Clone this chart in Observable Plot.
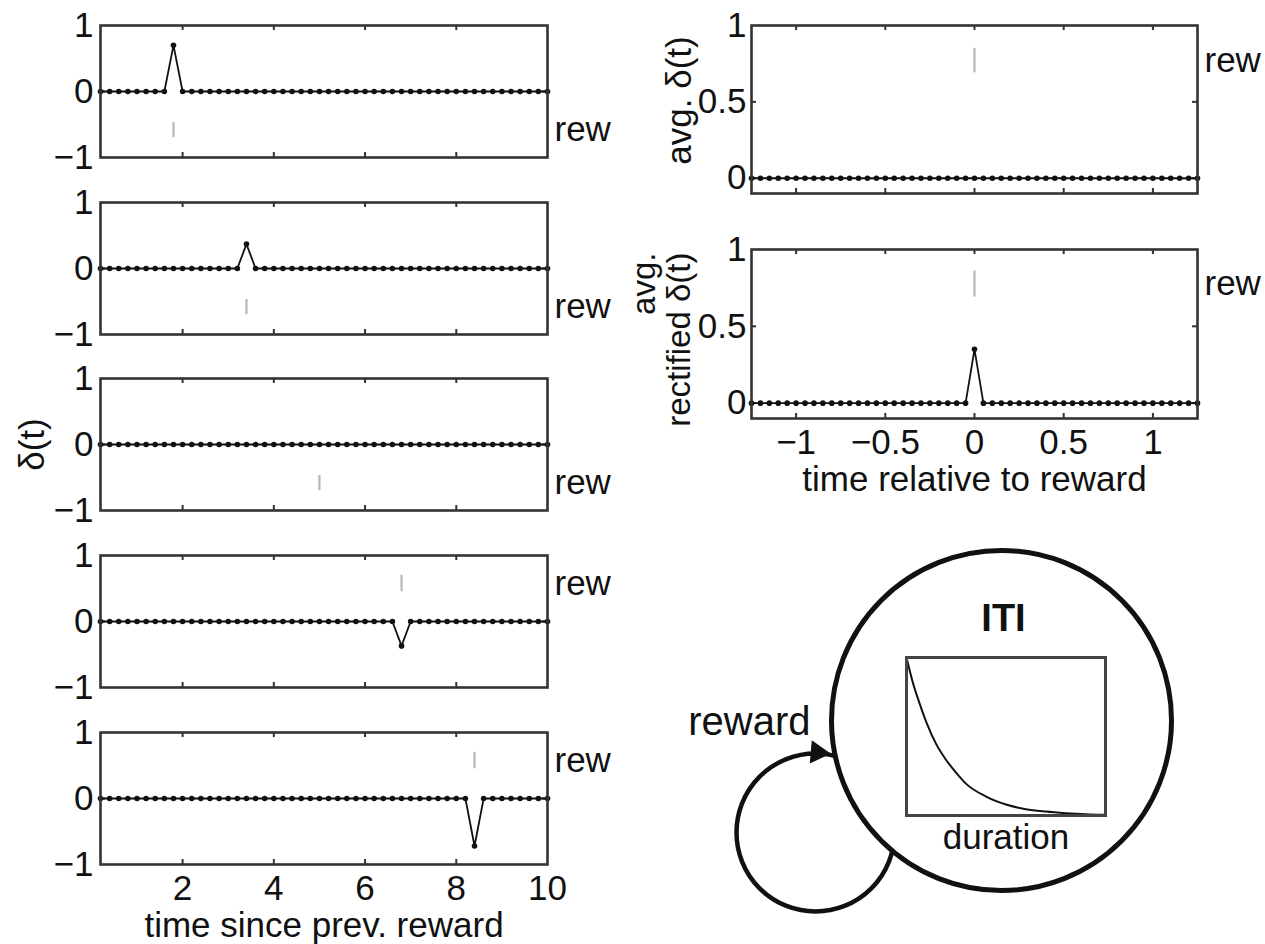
<!DOCTYPE html>
<html><head><meta charset="utf-8">
<script src="https://cdn.jsdelivr.net/npm/d3@7"></script>
<script src="https://cdn.jsdelivr.net/npm/@observablehq/plot@0.6"></script>
<style>
body{margin:0;background:#fff;}
#fig{position:relative;width:1265px;height:944px;overflow:hidden;background:#fff;}
#fig svg{position:absolute;overflow:visible;}
</style></head><body><div id="fig"></div>
<script>
// ---------- data ----------
const tLeft = [0.2,0.4,0.6,0.8,1,1.2,1.4,1.6,1.8,2,2.2,2.4,2.6,2.8,3,3.2,3.4,3.6,3.8,4,4.2,4.4,4.6,4.8,5,5.2,5.4,5.6,5.8,6,6.2,6.4,6.6,6.8,7,7.2,7.4,7.6,7.8,8,8.2,8.4,8.6,8.8,9,9.2,9.4,9.6,9.8,10];
const deltaP1 = [0,0,0,0,0,0,0,0,0.7,0, 0,0,0,0,0,0,0,0,0,0, 0,0,0,0,0,0,0,0,0,0, 0,0,0,0,0,0,0,0,0,0, 0,0,0,0,0,0,0,0,0,0];
const deltaP2 = [0,0,0,0,0,0,0,0,0,0, 0,0,0,0,0,0,0.37,0,0,0, 0,0,0,0,0,0,0,0,0,0, 0,0,0,0,0,0,0,0,0,0, 0,0,0,0,0,0,0,0,0,0];
const deltaP3 = [0,0,0,0,0,0,0,0,0,0, 0,0,0,0,0,0,0,0,0,0, 0,0,0,0,0,0,0,0,0,0, 0,0,0,0,0,0,0,0,0,0, 0,0,0,0,0,0,0,0,0,0];
const deltaP4 = [0,0,0,0,0,0,0,0,0,0, 0,0,0,0,0,0,0,0,0,0, 0,0,0,0,0,0,0,0,0,0, 0,0,0,-0.37,0,0,0,0,0,0, 0,0,0,0,0,0,0,0,0,0];
const deltaP5 = [0,0,0,0,0,0,0,0,0,0, 0,0,0,0,0,0,0,0,0,0, 0,0,0,0,0,0,0,0,0,0, 0,0,0,0,0,0,0,0,0,0, 0,-0.72,0,0,0,0,0,0,0,0];
const leftSeries = [deltaP1, deltaP2, deltaP3, deltaP4, deltaP5];
const rewTimeLeft = [1.8, 3.4, 5.0, 6.8, 8.4];
const rewLowLeft  = [-0.70, -0.70, -0.70, 0.45, 0.45];
const rewHighLeft = [-0.47, -0.47, -0.47, 0.70, 0.70];

const tRight = [-1.25,-1.2,-1.15,-1.1,-1.05,-1,-0.95,-0.9,-0.85,-0.8,-0.75,-0.7,-0.65,-0.6,-0.55,-0.5,-0.45,-0.4,-0.35,-0.3,-0.25,-0.2,-0.15,-0.1,-0.05,0,0.05,0.1,0.15,0.2,0.25,0.3,0.35,0.4,0.45,0.5,0.55,0.6,0.65,0.7,0.75,0.8,0.85,0.9,0.95,1,1.05,1.1,1.15,1.2,1.25];
const avgDelta  = [0,0,0,0,0,0,0,0,0,0, 0,0,0,0,0,0,0,0,0,0, 0,0,0,0,0,0,0,0,0,0, 0,0,0,0,0,0,0,0,0,0, 0,0,0,0,0,0,0,0,0,0, 0];
const rectDelta = [0,0,0,0,0,0,0,0,0,0, 0,0,0,0,0,0,0,0,0,0, 0,0,0,0,0,0.35,0,0,0,0, 0,0,0,0,0,0,0,0,0,0, 0,0,0,0,0,0,0,0,0,0, 0];
const rightSeries = [avgDelta, rectDelta];
const rewTimeRight = [0, 0];
const rewLowRight  = [0.69, 0.69];
const rewHighRight = [0.85, 0.86];

const leftXTicks = [2, 4, 6, 8, 10];
const leftYTicks = [-1, 0, 1];
const rightXTicks = [-1, -0.5, 0, 0.5, 1];
const rightYTicks = [0, 0.5, 1];
const rightYLabels = ["avg. δ(t)", "avg.\nrectified δ(t)"];

// schematic: exponential ITI-duration density
const durX = [0, 0.03, 0.06, 0.1, 0.15, 0.2, 0.25, 0.3, 0.4, 0.5, 0.6, 0.7, 0.8, 0.9, 1];
const durY = [1, 0.85, 0.73, 0.59, 0.45, 0.35, 0.27, 0.2, 0.12, 0.07, 0.04, 0.025, 0.015, 0.008, 0.004];

// ---------- drawing ----------
const FONT = "'Liberation Sans', Arial, Helvetica, sans-serif";
const FS = 35;
const fmt = v => (v < 0 ? "\u2212" : "") + Math.abs(v);
const fig = document.getElementById("fig");
function place(svg, left, top) {
  svg.style.left = left + "px";
  svg.style.top = top + "px";
  fig.appendChild(svg);
}
const baseStyle = {background: "transparent", overflow: "visible", fontFamily: FONT, color: "#111"};

function panel(cfg) {
  const {t, d, xDomain, yDomain, xTicks, yTicks, box, rewT, rewLo, rewHi, showX, xLabel, xLabelDy, yLabel, yLabelOpts, yPad} = cfg;
  const [x0, y0, x1, y1] = box;
  const w = x1 - x0, h = y1 - y0;
  const ml = 140, mr = 90, mt = 20, mb = 90;
  const data = t.map((v, i) => ({t: v, d: d[i]}));
  const inner = xTicks.filter(v => v > xDomain[0] && v < xDomain[1]);
  const innerY = yTicks.filter(v => v > yDomain[0] && v < yDomain[1]);
  const marks = [
    Plot.ruleX(inner, {insetTop: h - 5, stroke: "#333", strokeWidth: 2}),
    Plot.ruleX(inner, {insetBottom: h - 5, stroke: "#333", strokeWidth: 2}),
    Plot.ruleY(innerY, {insetRight: w - 5, stroke: "#333", strokeWidth: 2}),
    Plot.ruleY(innerY, {insetLeft: w - 5, stroke: "#333", strokeWidth: 2}),
    Plot.ruleX([rewT], {y1: rewLo, y2: rewHi, stroke: "#b8b8b8", strokeWidth: 2.2}),
    Plot.line(data, {x: "t", y: "d", stroke: "#111", strokeWidth: 1.8}),
    Plot.dot(data, {x: "t", y: "d", r: 2.8, fill: "#111", stroke: "none"}),
    Plot.frame({stroke: "#333", strokeWidth: 2.6}),
    Plot.text([{x: xDomain[1], y: (rewLo + rewHi) / 2, s: "rew"}], {x: "x", y: "y", text: "s", textAnchor: "start", dx: 7, fontSize: FS, fill: "#111"}),
    Plot.axisY({ticks: yTicks, tickFormat: fmt, anchor: "left", tickSize: 0, tickPadding: yPad, fontSize: FS, label: null, fill: "#111"})
  ];
  if (showX) {
    marks.push(Plot.axisX({ticks: xTicks, tickFormat: fmt, anchor: "bottom", tickSize: 0, tickPadding: 11, fontSize: FS, label: null, fill: "#111"}));
    marks.push(Plot.text([xLabel], {frameAnchor: "bottom", textAnchor: "middle", dy: xLabelDy, fontSize: FS, fill: "#111", lineAnchor: "middle"}));
  }
  if (yLabel) {
    marks.push(Plot.text([yLabel], {rotate: -90, lineAnchor: "middle", fontSize: FS, fill: "#111", lineHeight: 1.05, ...yLabelOpts}));
  }
  const svg = Plot.plot({
    width: ml + w + mr, height: mt + h + mb,
    marginLeft: ml, marginRight: mr, marginTop: mt, marginBottom: mb,
    style: baseStyle,
    x: {domain: xDomain, axis: null},
    y: {domain: yDomain, axis: null},
    marks
  });
  place(svg, x0 - ml, y0 - mt);
}

// left column
const leftTops = [25, 202, 378, 555, 732];
leftSeries.forEach((d, i) => {
  panel({
    t: tLeft, d, xDomain: [0.2, 10], yDomain: [-1, 1], xTicks: leftXTicks, yTicks: leftYTicks,
    box: [100, leftTops[i], 547, leftTops[i] + 132],
    rewT: rewTimeLeft[i], rewLo: rewLowLeft[i], rewHi: rewHighLeft[i],
    showX: i === 4, xLabel: "time since prev. reward", xLabelDy: 61,
    yLabel: i === 2 ? "δ(t)" : null,
    yLabelOpts: {frameAnchor: "left", textAnchor: "middle", dx: -68},
    yPad: 7
  });
});

// right column
const rightBoxes = [[751, 25, 1197, 193], [751, 249, 1197, 418]];
const rightLabelOpts = [
  {frameAnchor: "left", textAnchor: "middle", dx: -72, dy: -9},
  {frameAnchor: "top-left", textAnchor: "end", dx: -90, dy: 3, fontSize: 33}
];
rightSeries.forEach((d, i) => {
  panel({
    t: tRight, d, xDomain: [-1.25, 1.25], yDomain: [-0.1, 1], xTicks: rightXTicks, yTicks: rightYTicks,
    box: rightBoxes[i],
    rewT: rewTimeRight[i], rewLo: rewLowRight[i], rewHi: rewHighRight[i],
    showX: i === 1, xLabel: "time relative to reward", xLabelDy: 61,
    yLabel: rightYLabels[i], yLabelOpts: rightLabelOpts[i], yPad: 5
  });
});

// schematic (page-pixel coordinate system for the diagram)
const bigCircle = {x: 1001, y: 720, r: 170};
const loopCircle = {x: 815, y: 832, r: 79};
const arrowHead = {x: 817, y: 752};
const diagram = Plot.plot({
  width: 585, height: 404, margin: 0,
  style: baseStyle,
  x: {domain: [680, 1265], range: [0, 585], axis: null},
  y: {domain: [540, 944], range: [0, 404], axis: null},
  marks: [
    Plot.dot([loopCircle], {x: "x", y: "y", r: loopCircle.r, stroke: "#111", strokeWidth: 4.5, fill: "none"}),
    Plot.dot([bigCircle], {x: "x", y: "y", r: bigCircle.r, stroke: "#111", strokeWidth: 5, fill: "white"}),
    Plot.dot([arrowHead], {x: "x", y: "y", symbol: "triangle", rotate: 95, r: 8, fill: "#111", stroke: "#111", strokeWidth: 1}),
    Plot.text([{x: 810, y: 722, s: "reward"}], {x: "x", y: "y", text: "s", textAnchor: "end", fontSize: 40, fill: "#111"}),
    Plot.text([{x: 1003, y: 618, s: "ITI"}], {x: "x", y: "y", text: "s", fontSize: 38, fontWeight: "bold", fill: "#111"})
  ]
});
place(diagram, 680, 540);

const inset = Plot.plot({
  width: 199, height: 158, margin: 0,
  style: baseStyle,
  x: {domain: [0, 1], axis: null},
  y: {domain: [0, 1], axis: null},
  marks: [
    Plot.line(durX.map((v, i) => ({x: v, y: durY[i]})), {x: "x", y: "y", stroke: "#111", strokeWidth: 2, curve: "monotone-x"}),
    Plot.frame({stroke: "#444", strokeWidth: 3}),
    Plot.text(["duration"], {frameAnchor: "bottom", textAnchor: "middle", lineAnchor: "top", dy: 9, fontSize: 35, fill: "#111"})
  ]
});
place(inset, 906, 657);
</script></body></html>
